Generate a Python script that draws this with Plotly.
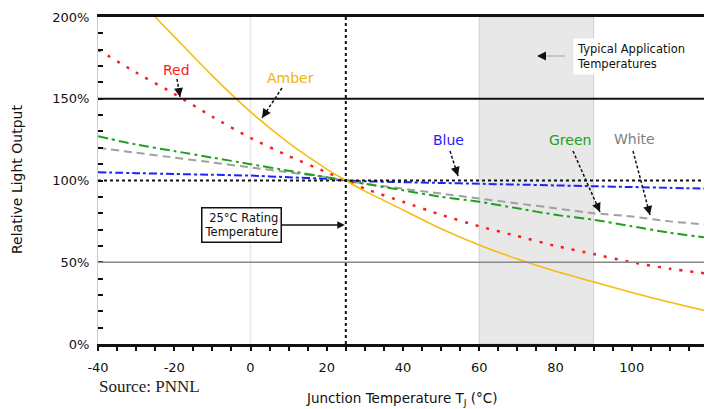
import plotly.graph_objects as go

# ---- data ----
temps = [-40, -30, -20, -10, 0, 10, 20, 25, 30, 40, 50, 60, 70, 80, 90, 100, 110, 120]
red = [180, 166, 153, 139, 126, 115, 105, 100, 95, 87, 79, 72, 66, 60, 55, 50, 46, 43]
green = [127, 122, 118, 114, 110, 106, 102, 100, 98, 94, 90, 87, 83, 79, 76, 72, 68, 65]
white = [120, 117, 114, 111, 108, 105, 102, 100, 98, 95, 92, 89, 86, 83, 80, 78, 75, 73]
blue = [105, 104.5, 104, 103.5, 103, 102, 101, 100, 99.5, 99, 98.5, 98, 97.5, 97, 96.5, 96, 95.5, 95]
amber_temps = [-25, -20, -10, 0, 10, 20, 25, 30, 40, 50, 60, 70, 80, 90, 100, 110, 120]
amber = [200, 188, 164, 142, 123, 107, 100, 93.5, 82, 70.5, 60.5, 52, 44.5, 38, 31.5, 25.5, 20]

x_ticks = [-40, -20, 0, 20, 40, 60, 80, 100, 120]
y_ticks = [0, 50, 100, 150, 200]

RATING_T = 25
APP_RANGE = [60, 90]

FONT = "DejaVu Sans, Verdana, sans-serif"

# page geometry: the page body has an 8px margin, so the figure is offset
PAGE_W, PAGE_H, OFF = 712, 409, 8
FIG_W, FIG_H = PAGE_W - OFF, PAGE_H - OFF
# plot-area edges in page pixels
L, R, T, B = 98, 708, 17, 344
XMIN, XMAX, YMIN, YMAX = -40, 120, 0, 200


def px2x(px):
    return XMIN + (px - L) * (XMAX - XMIN) / (R - L)


def px2y(py):
    return YMIN + (B - py) * (YMAX - YMIN) / (B - T)


def paper_x(px):
    return (px - L) / (R - L)


def paper_y(py):
    return (B - py) / (B - T)


fig = go.Figure()

series = [
    ("Blue", temps, blue, "#1f1fff", "8px,3px,3px,3px", 2),
    ("White", temps, white, "#a0a0a0", "8px,5px", 2),
    ("Green", temps, green, "#20a020", "10px,4px,3px,4px", 2),
    ("Red", temps, red, "#ff1a1a", "3px,8px", 2.5),
    ("Amber", amber_temps, amber, "#f7bb12", "solid", 1.6),
]
for name, xs, ys, color, dash, w in series:
    fig.add_trace(go.Scatter(
        x=xs, y=ys, mode="lines", name=name,
        line=dict(color=color, dash=dash, width=w, shape="spline", smoothing=0.6),
        showlegend=False, hoverinfo="skip"))

shapes = [
    # typical application temperature band
    dict(type="rect", xref="x", yref="y", x0=APP_RANGE[0], x1=APP_RANGE[1], y0=0, y1=200,
         fillcolor="#e8e8e8", line=dict(color="#cfcfcf", width=1), layer="below"),
    # faint vertical at 0
    dict(type="line", xref="x", yref="y", x0=0, x1=0, y0=0, y1=200,
         line=dict(color="#ececec", width=2), layer="below"),
    # horizontal reference lines
    dict(type="line", xref="x", yref="y", x0=-40, x1=120, y0=150, y1=150,
         line=dict(color="#111", width=2)),
    dict(type="line", xref="x", yref="y", x0=-40, x1=120, y0=100, y1=100,
         line=dict(color="#111", width=2, dash="dot")),
    dict(type="line", xref="x", yref="y", x0=-40, x1=120, y0=50, y1=50,
         line=dict(color="#888", width=1.5)),
    # rating temperature vertical
    dict(type="line", xref="x", yref="y", x0=RATING_T, x1=RATING_T, y0=0, y1=200,
         line=dict(color="#111", width=2, dash="dot")),
    # right border
    dict(type="line", xref="paper", yref="paper", x0=1, x1=1, y0=0, y1=1,
         line=dict(color="#111", width=2.5)),
]

annotations = []

# series labels with dashed leader arrows: (text, color, text px, line start px, tip px)
labels = [
    ("Red", "#ff1a1a", (176, 70), (177, 79), (180, 97)),
    ("Amber", "#f0b400", (290, 78), (282, 88), (262, 118)),
    ("Blue", "#1f1fff", (448, 140), (450, 151), (458, 176)),
    ("Green", "#20a020", (570, 140), (573, 151), (600, 212)),
    ("White", "#808080", (634, 139), (633, 151), (650, 215)),
]
for text, color, (tx, ty), (sx, sy), (ex, ey) in labels:
    annotations.append(dict(x=px2x(tx), y=px2y(ty), xref="x", yref="y", text=text,
                            showarrow=False, font=dict(color=color, size=14, family=FONT)))
    shapes.append(dict(type="line", xref="x", yref="y", x0=px2x(sx), y0=px2y(sy),
                       x1=px2x(ex), y1=px2y(ey), line=dict(color="#111", width=1.5, dash="3px,2px")))
    dx, dy = sx - ex, sy - ey
    n = (dx * dx + dy * dy) ** 0.5
    annotations.append(dict(x=px2x(ex), y=px2y(ey), xref="x", yref="y", text="",
                            showarrow=True, arrowhead=2, arrowsize=1.2, arrowwidth=1.5,
                            arrowcolor="#111", ax=dx / n * 6, ay=dy / n * 6, standoff=0))

# 25°C rating temperature box with arrow
annotations.append(dict(
    x=RATING_T, y=px2y(225), xref="x", yref="y",
    text="25°C Rating<br>Temperature", align="right",
    font=dict(size=11.5, family=FONT, color="#111"),
    bordercolor="#111", borderwidth=1.5, borderpad=2, bgcolor="white",
    showarrow=True, arrowhead=2, arrowsize=1, arrowwidth=1.5, arrowcolor="#111",
    ax=-104, ay=0, standoff=1))

# typical application temperatures box
annotations.append(dict(
    x=px2x(631), y=px2y(56), xref="x", yref="y",
    text="Typical Application<br>Temperatures", align="left",
    font=dict(size=11.5, family=FONT, color="#111"),
    bgcolor="white", borderpad=3, showarrow=False))
shapes.append(dict(type="line", xref="x", yref="y", x0=px2x(565), x1=px2x(540),
                   y0=px2y(56), y1=px2y(56), line=dict(color="#bbb", width=1.5)))
annotations.append(dict(x=px2x(537), y=px2y(56), xref="x", yref="y", text="",
                        showarrow=True, arrowhead=2, arrowsize=1.2, arrowwidth=1.5,
                        arrowcolor="#111", ax=6, ay=0, standoff=0))

# axis titles and source
annotations.append(dict(x=paper_x(402), y=paper_y(399), xref="paper", yref="paper",
                        xanchor="center", yanchor="middle",
                        text="Junction Temperature T<sub>J</sub> (°C)", showarrow=False,
                        font=dict(size=13.5, family=FONT, color="#111")))
annotations.append(dict(x=paper_x(17), y=paper_y(180), xref="paper", yref="paper",
                        xanchor="center", yanchor="middle",
                        text="Relative Light Output", textangle=-90, showarrow=False,
                        font=dict(size=14, family=FONT, color="#111")))
annotations.append(dict(x=paper_x(97), y=paper_y(386), xref="paper", yref="paper",
                        xanchor="left", yanchor="middle",
                        text="Source: PNNL", showarrow=False,
                        font=dict(size=17, family="Liberation Serif, Times New Roman, serif",
                                  color="#222")))

fig.update_layout(
    width=FIG_W, height=FIG_H,
    margin=dict(l=L - OFF, r=FIG_W - (R - OFF), t=T - OFF, b=FIG_H - (B - OFF), autoexpand=False),
    paper_bgcolor="white", plot_bgcolor="white",
    font=dict(family=FONT, size=13, color="#111"),
    shapes=shapes, annotations=annotations, showlegend=False,
)
fig.update_xaxes(
    range=[XMIN, XMAX], tickvals=x_ticks, ticktext=[str(v) for v in x_ticks],
    showgrid=False, zeroline=False,
    showline=True, linecolor="#111", linewidth=2.5, mirror=True,
    ticks="outside", ticklen=4, tickwidth=2, tickcolor="#111",
    minor=dict(dtick=5, tick0=0, ticks="outside", ticklen=4, tickwidth=2, tickcolor="#111"),
    tickfont=dict(size=13, color="#111"), ticklabelstandoff=6,
)
fig.update_yaxes(
    range=[YMIN, YMAX], tickvals=y_ticks, ticktext=[f"{v}%" for v in y_ticks],
    showgrid=False, zeroline=False,
    showline=True, linecolor="#cccccc", linewidth=1,
    ticks="inside", ticklen=5, tickwidth=2, tickcolor="#111",
    minor=dict(dtick=10, tick0=0, ticks="inside", ticklen=5, tickwidth=2, tickcolor="#111"),
    tickfont=dict(size=13, color="#111"), ticklabelstandoff=5,
)

fig.write_html("out.html")
